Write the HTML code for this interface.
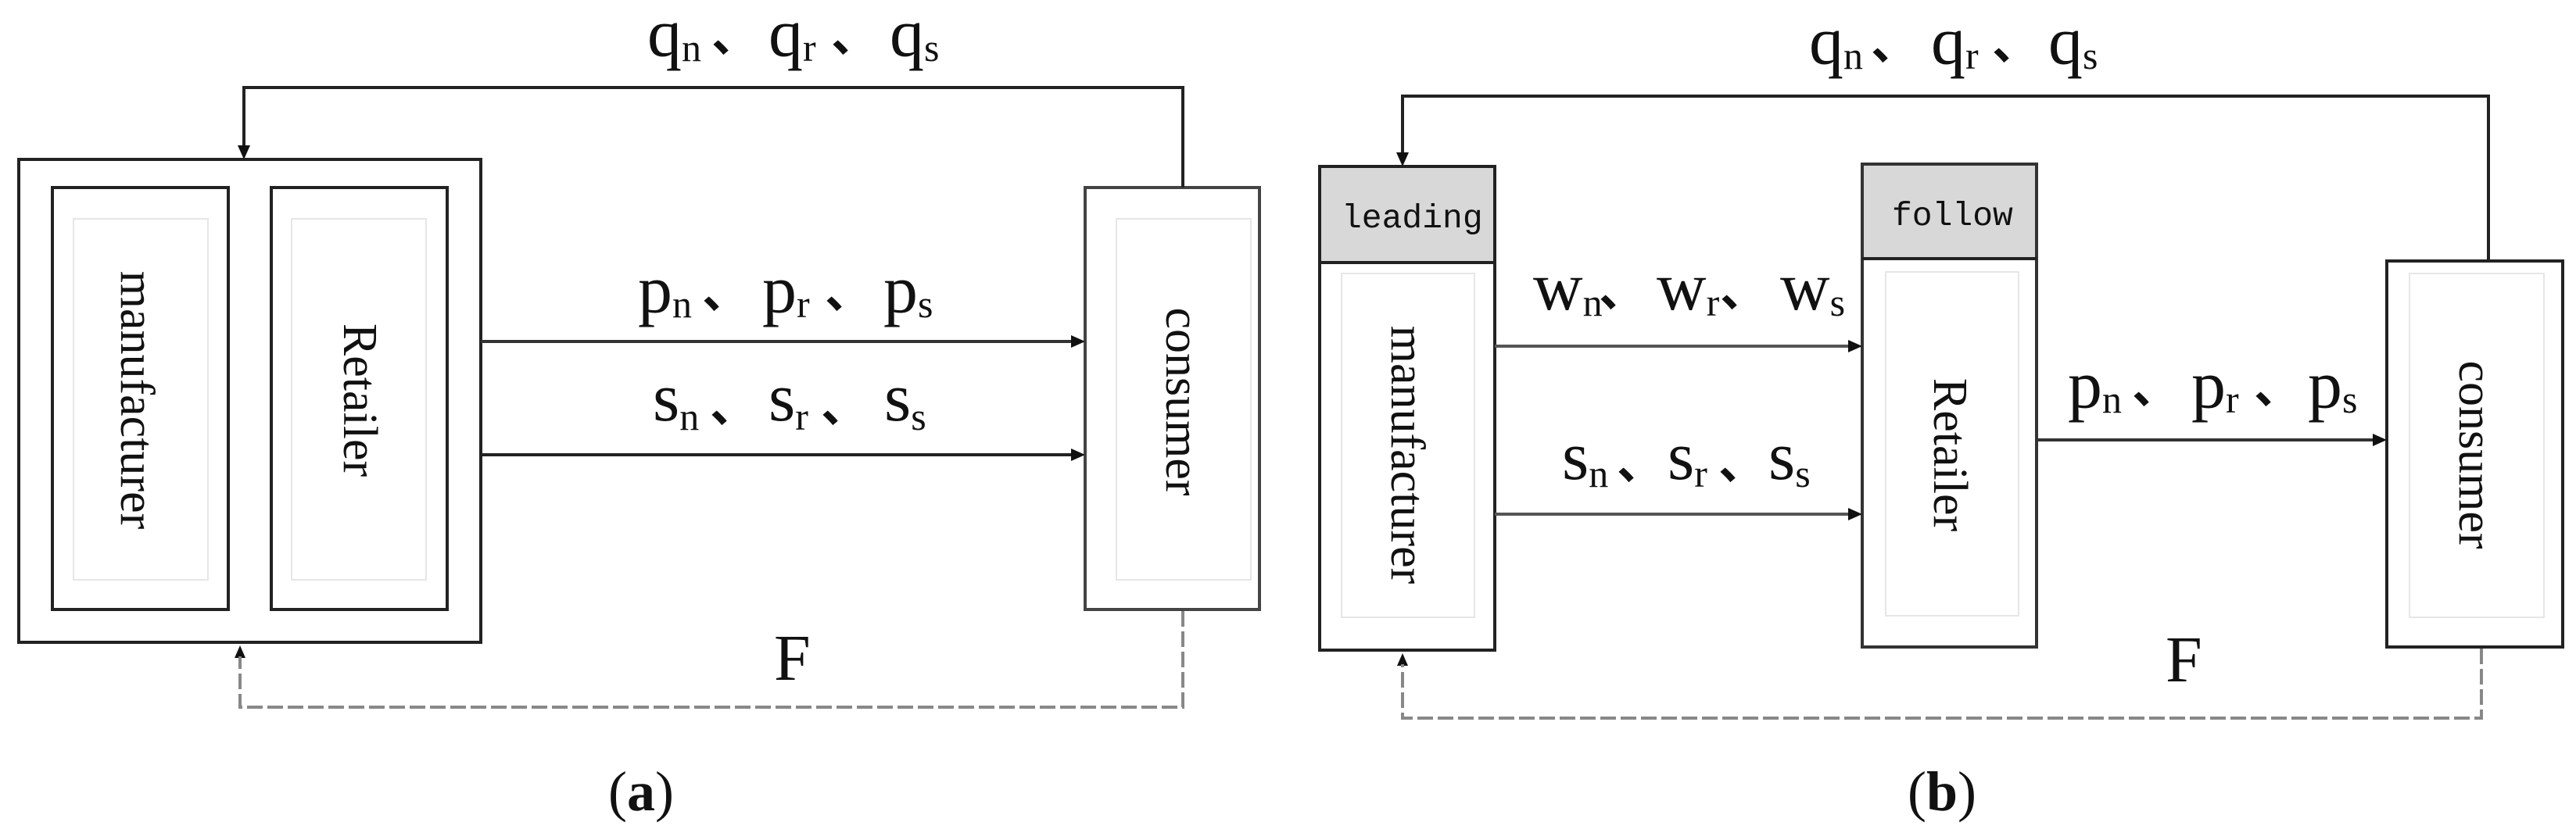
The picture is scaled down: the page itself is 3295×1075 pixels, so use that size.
<!DOCTYPE html>
<html><head><meta charset="utf-8"><style>
html,body{margin:0;padding:0;background:#fff;}
svg{display:block;}
.m{font-family:"Liberation Serif",serif;font-size:88px;fill:#111;}
.sub{font-size:50px;}
.c{font-family:"Liberation Sans","Noto Sans CJK SC",sans-serif;font-size:60px;font-weight:bold;fill:#111;}
.v{font-family:"Liberation Serif",serif;font-size:62px;fill:#111;}
.mono{font-family:"Liberation Mono",monospace;font-size:43px;fill:#111;}
.F{font-family:"Liberation Serif",serif;font-size:84px;fill:#111;}
.cap{font-family:"Liberation Serif",serif;font-size:72px;fill:#111;}
</style></head><body>
<svg width="3295" height="1075" viewBox="0 0 3295 1075" xmlns="http://www.w3.org/2000/svg">
<defs>
<marker id="ah" markerWidth="10" markerHeight="10" refX="9" refY="5" orient="auto" markerUnits="userSpaceOnUse" viewBox="0 0 10 10">
</marker>
</defs>
<g fill="none" stroke="#222" stroke-width="4">
<!-- (a) -->
<rect x="24" y="204" width="591" height="618"/>
<rect x="67" y="240" width="225" height="540"/>
<rect x="347" y="240" width="225" height="540"/>
<rect x="1388" y="240" width="223" height="540" stroke="#444"/>
<polyline points="1513,240 1513,112 312,112 312,192"/>
<line x1="615" y1="437" x2="1378" y2="437" stroke="#333"/>
<line x1="615" y1="582" x2="1378" y2="582"/>
<!-- (b) -->
<rect x="1688" y="213" width="224" height="619"/>
<rect x="2382" y="210" width="223" height="618" stroke="#333"/>
<rect x="3053" y="334" width="225" height="494"/>
<polyline points="3183,334 3183,123 1794,123 1794,201"/>
<line x1="1912" y1="443" x2="2370" y2="443" stroke="#555"/>
<line x1="1912" y1="658" x2="2370" y2="658" stroke="#555"/>
<line x1="2605" y1="563" x2="3041" y2="563" stroke="#333"/>
</g>
<rect x="1690" y="215" width="220" height="121" fill="#d8d8d8"/>
<line x1="1688" y1="336" x2="1912" y2="336" stroke="#222" stroke-width="4"/>
<rect x="2384" y="212" width="219" height="118" fill="#d8d8d8"/>
<line x1="2382" y1="331" x2="2605" y2="331" stroke="#222" stroke-width="4"/>
<!-- faint inner rects -->
<g fill="none" stroke="#e6e6e6" stroke-width="2">
<rect x="94" y="280" width="172" height="462"/>
<rect x="373" y="280" width="172" height="462"/>
<rect x="1428" y="280" width="172" height="462"/>
<rect x="1716" y="350" width="170" height="440"/>
<rect x="2412" y="348" width="170" height="440"/>
<rect x="3082" y="350" width="172" height="440"/>
</g>
<!-- arrowheads -->
<g fill="#111">
<polygon points="312,204 304,186 320,186"/>
<polygon points="1388,437 1370,429 1370,445"/>
<polygon points="1388,582 1370,574 1370,590"/>
<polygon points="1794,213 1786,195 1802,195"/>
<polygon points="2382,443 2364,435 2364,451"/>
<polygon points="2382,658 2364,650 2364,666"/>
<polygon points="3053,563 3035,555 3035,571"/>
<polygon points="307,826 300,842 314,842"/>
<polygon points="1794,836 1787,852 1801,852"/>
</g>
<!-- dashed -->
<g fill="none" stroke="#888" stroke-width="4" stroke-dasharray="20,6">
<polyline points="1513,782 1513,905 307,905 307,840"/>
<polyline points="3174,830 3174,919 1794,919 1794,850"/>
</g>
<!-- rotated labels -->
<text class="v" text-anchor="middle" dominant-baseline="central" transform="translate(175,512) rotate(90)">manufacturer</text>
<text class="v" text-anchor="middle" dominant-baseline="central" transform="translate(460,512) rotate(90)">Retailer</text>
<text class="v" text-anchor="middle" dominant-baseline="central" transform="translate(1512,514) rotate(90)">consumer</text>
<text class="v" text-anchor="middle" dominant-baseline="central" transform="translate(1800,582) rotate(90)">manufacturer</text>
<text class="v" text-anchor="middle" dominant-baseline="central" transform="translate(2494,582) rotate(90)">Retailer</text>
<text class="v" text-anchor="middle" dominant-baseline="central" transform="translate(3166,582) rotate(90)">consumer</text>
<text class="mono" x="1716" y="291">leading</text>
<text class="mono" x="2420" y="288">follow</text>
<!-- (a) labels -->
<text class="m" x="828" y="72">q<tspan class="sub" dy="6">n</tspan></text><text class="c" x="910" y="66">、</text>
<text class="m" x="983" y="72">q<tspan class="sub" dy="6">r</tspan></text><text class="c" x="1063" y="66">、</text>
<text class="m" x="1138" y="72">q<tspan class="sub" dy="6">s</tspan></text>
<text class="m" x="816" y="400">p<tspan class="sub" dy="6">n</tspan></text><text class="c" x="898" y="394">、</text>
<text class="m" x="975" y="400">p<tspan class="sub" dy="6">r</tspan></text><text class="c" x="1055" y="394">、</text>
<text class="m" x="1130" y="400">p<tspan class="sub" dy="6">s</tspan></text>
<text class="m" x="835" y="538">s<tspan class="sub" dy="12">n</tspan></text><text class="c" x="908" y="540">、</text>
<text class="m" x="983" y="538">s<tspan class="sub" dy="12">r</tspan></text><text class="c" x="1050" y="540">、</text>
<text class="m" x="1131" y="538">s<tspan class="sub" dy="12">s</tspan></text>
<text class="F" x="990" y="870">F</text>
<text class="cap" x="820" y="1037" text-anchor="middle">(<tspan font-weight="bold">a</tspan>)</text>
<!-- (b) labels -->
<text class="m" x="2314" y="82">q<tspan class="sub" dy="6">n</tspan></text><text class="c" x="2393" y="76">、</text>
<text class="m" x="2470" y="82">q<tspan class="sub" dy="6">r</tspan></text><text class="c" x="2548" y="76">、</text>
<text class="m" x="2620" y="82">q<tspan class="sub" dy="6">s</tspan></text>
<text class="m" x="1961" y="396">w<tspan class="sub" dy="8">n</tspan></text><text class="c" x="2045" y="392">、</text>
<text class="m" x="2119" y="396">w<tspan class="sub" dy="8">r</tspan></text><text class="c" x="2200" y="392">、</text>
<text class="m" x="2277" y="396">w<tspan class="sub" dy="8">s</tspan></text>
<text class="m" x="1998" y="613">s<tspan class="sub" dy="10">n</tspan></text><text class="c" x="2068" y="613">、</text>
<text class="m" x="2133" y="613">s<tspan class="sub" dy="10">r</tspan></text><text class="c" x="2198" y="613">、</text>
<text class="m" x="2262" y="613">s<tspan class="sub" dy="10">s</tspan></text>
<text class="m" x="2645" y="522">p<tspan class="sub" dy="6">n</tspan></text><text class="c" x="2727" y="516">、</text>
<text class="m" x="2803" y="522">p<tspan class="sub" dy="6">r</tspan></text><text class="c" x="2883" y="516">、</text>
<text class="m" x="2952" y="522">p<tspan class="sub" dy="6">s</tspan></text>
<text class="F" x="2770" y="872">F</text>
<text class="cap" x="2484" y="1037" text-anchor="middle">(<tspan font-weight="bold">b</tspan>)</text>
</svg>
</body></html>
